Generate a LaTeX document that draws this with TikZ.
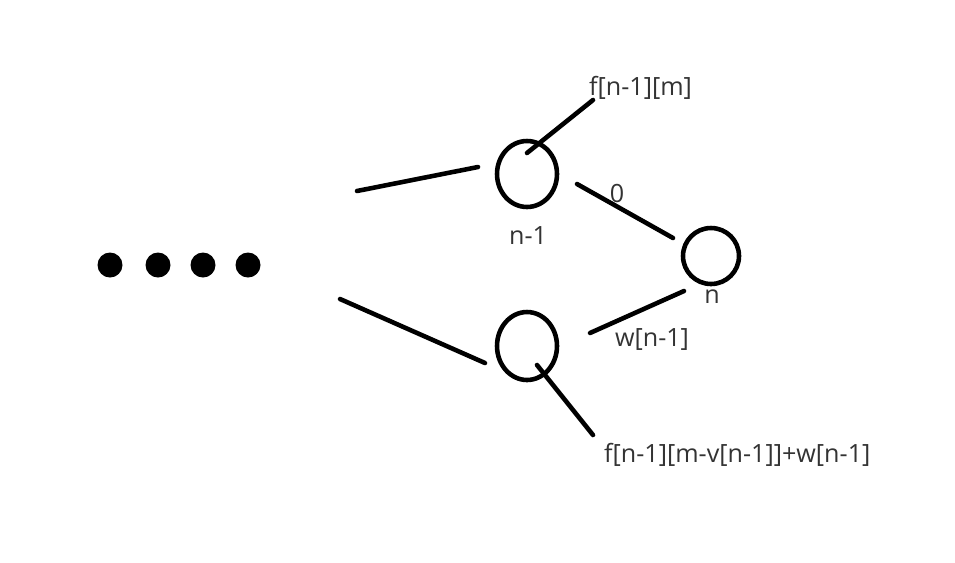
\documentclass[tikz,border=0pt]{standalone}
\usepackage{fontspec}
\setmainfont{Open Sans}
\usepackage{tikz}
\usetikzlibrary{shapes.geometric}

\begin{document}
\begin{tikzpicture}[
  x=0.02cm, y=-0.02cm,
  font=\fontsize{14.3}{17}\selectfont,
  edg/.style={draw=black, line width=2.6pt, line cap=round},
  knot/.style={ellipse, draw=black, line width=2.6pt, inner sep=0pt},
  dotc/.style={circle, fill=black, inner sep=0pt, minimum size=0.5cm},
  tag/.style={text=black!80, inner sep=1pt},
]
\useasboundingbox (0,0) rectangle (955,562);

%% ---- the four dots on the left ----
\foreach \i/\x in {1/110,2/158,3/203,4/248}
  \node[dotc] (dot\i) at (\x,265) {};

%% ---- the three states ----
\node[knot, minimum width=1.2cm, minimum height=1.32cm] (up)  at (527,174) {};
\node[knot, minimum width=1.2cm, minimum height=1.36cm] (low) at (527,346) {};
\node[knot, minimum width=1.12cm, minimum height=1.12cm] (last) at (711,256) {};

\node[tag] (uplbl)   at (528,236) {n-1};
\node[tag] (lastlbl) at (712,297) {n};

%% free ends of the hand drawn strokes
\coordinate (inA)  at (357,191);
\coordinate (inA') at (478,167);
\coordinate (inB)  at (340,299);
\coordinate (inB') at (485,363);
\coordinate (zeroA) at (577,184);
\coordinate (zeroB) at (673,238);
\coordinate (takeA) at (590,333);
\coordinate (takeB) at (684,291);
\coordinate (fa)  at (527,153);
\coordinate (fa') at (593,100);
\coordinate (fb)  at (537,365);
\coordinate (fb') at (593,435);

\draw[edg] (inA) -- (inA');
\draw[edg] (inB) -- (inB');
\draw[edg] (zeroA) -- (zeroB);
\draw[edg] (takeA) -- (takeB);
\draw[edg] (fa) -- (fa');
\draw[edg] (fb) -- (fb');

%% ---- edge texts ----
\node[tag] (zerolbl) at (617,194) {0};
\node[tag] (takelbl) at (652,340) {w[n-1]};
\node[tag, anchor=west] (skiplbl) at (587,88) {f[n-1][m]};
\node[tag, anchor=west] (pickl)   at (602,455) {f[n-1][m-v[n-1]]+w[n-1]};
\end{tikzpicture}
\end{document}
